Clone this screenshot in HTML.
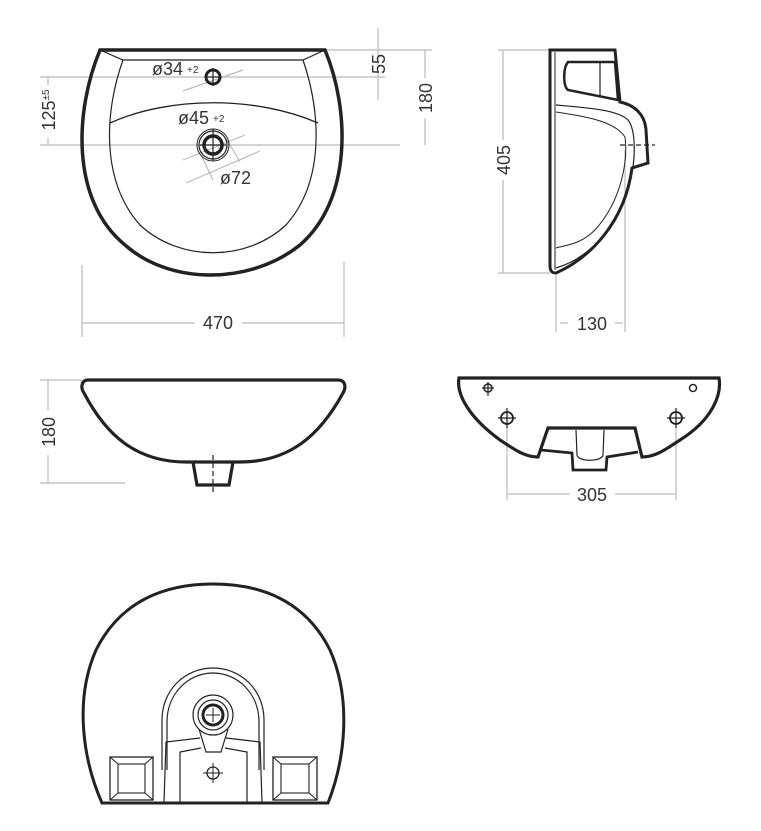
<!DOCTYPE html>
<html><head><meta charset="utf-8"><style>
html,body{margin:0;padding:0;background:#fff}
svg{display:block}
text{font-family:"Liberation Sans",sans-serif;fill:#333}
</style></head><body>
<svg width="761" height="831" viewBox="0 0 761 831" xmlns="http://www.w3.org/2000/svg">
<g fill="none" stroke="#bbb" stroke-width="1.2">
<line x1="40" y1="145" x2="400" y2="145"/>
<line x1="40" y1="77" x2="385" y2="77"/>
<line x1="325" y1="50" x2="432" y2="50"/>
<line x1="378" y1="28" x2="378" y2="100"/>
<line x1="425" y1="50" x2="425" y2="78"/><line x1="425" y1="118" x2="425" y2="145"/>
<line x1="48" y1="77" x2="48" y2="85"/><line x1="48" y1="138" x2="48" y2="145"/>
<line x1="82" y1="265" x2="82" y2="337"/><line x1="344" y1="262" x2="344" y2="337"/>
<line x1="82" y1="323" x2="195" y2="323"/><line x1="242" y1="323" x2="344" y2="323"/>
<line x1="183" y1="91" x2="243" y2="70"/>
<line x1="183" y1="160" x2="245" y2="135"/>
<line x1="186" y1="183" x2="260" y2="151"/>
<line x1="201" y1="155" x2="213" y2="180"/>
<line x1="227" y1="140" x2="240" y2="162"/>
<line x1="498" y1="50" x2="550" y2="50"/><line x1="498" y1="273" x2="550" y2="273"/>
<line x1="503" y1="50" x2="503" y2="140"/><line x1="503" y1="180" x2="503" y2="273"/>
<line x1="556" y1="275" x2="556" y2="332"/><line x1="625" y1="150" x2="625" y2="332"/>
<line x1="560" y1="323" x2="568" y2="323"/><line x1="615" y1="323" x2="623" y2="323"/>
<line x1="40" y1="380" x2="82" y2="380"/><line x1="40" y1="483" x2="125" y2="483"/>
<line x1="48" y1="380" x2="48" y2="410"/><line x1="48" y1="455" x2="48" y2="483"/>
<line x1="507" y1="410" x2="507" y2="500"/><line x1="676" y1="410" x2="676" y2="500"/>
<line x1="507" y1="494" x2="570" y2="494"/><line x1="615" y1="494" x2="676" y2="494"/>
</g>
<g fill="none" stroke="#222" stroke-width="1.2">
<line x1="213" y1="68" x2="213" y2="86"/><line x1="205" y1="77" x2="221" y2="77"/>
<line x1="213" y1="129" x2="213" y2="161"/><line x1="200" y1="145" x2="226" y2="145"/>
<line x1="213" y1="455" x2="213" y2="492" stroke-dasharray="5,3"/>
<line x1="620" y1="145" x2="655" y2="145" stroke-dasharray="5,3"/>
</g>
<g fill="none" stroke="#222">
<path d="M100,50 L325,50 C350,110 352,200 300,245 C250,285 170,285 125,245 C70,200 75,110 100,50 Z" stroke-width="3.5"/>
<path d="M100,50 L123,60 L303,60 L325,50" stroke-width="1.2"/>
<path d="M123,60 C105,110 100,180 140,225 C180,262 246,262 286,225 C326,180 320,110 303,60" stroke-width="1.2"/>
<path d="M110,123 C170,96 256,96 318,123" stroke-width="1.3"/>
<circle cx="213" cy="77" r="7" stroke-width="3"/>
<circle cx="213" cy="145" r="9" stroke-width="3.5"/>
<circle cx="213" cy="145" r="14" stroke-width="1.2"/>
<circle cx="213" cy="145" r="16" stroke-width="1"/>
</g>
<g fill="none" stroke="#222">
<path d="M550,50 L615,50 L620,102 C635,105 645,115 646,130 L648,163 L632,168 C625,222 590,258 556,273 C551,273 550,270 550,265 Z" stroke-width="3"/>
<path d="M568,62 L615,62 L618,100 L568,90 C563,86 563,68 568,62 Z" stroke-width="2.5"/>
<line x1="600" y1="62" x2="600" y2="96" stroke-width="1.2"/>
<path d="M556,105 C590,108 618,110 628,120 C636,130 636,160 630,180 C620,225 590,258 556,268" stroke-width="1.2"/>
<path d="M556,112 C590,117 615,122 625,137 C628,160 622,200 595,230 C580,245 565,245 556,248" stroke-width="1"/>
<line x1="555" y1="52" x2="555" y2="270" stroke-width="1"/>
</g>
<g fill="none" stroke="#222" stroke-width="3.2">
<path d="M88,380 L338,380 C346,380 346,388 343,393 C320,435 290,462 240,462 L186,462 C136,462 106,435 84,393 C80,387 82,380 88,380 Z"/>
<path d="M193,462 L197,485 L229,485 L233,462"/>
</g>
<g fill="none" stroke="#222">
<path d="M459,378 L719,378 C722,395 712,420 680,440 C665,450 655,457 642,457 L635,428 L548,428 L538,457 C525,457 515,450 500,440 C470,418 456,395 459,378 Z" stroke-width="3.2"/>
<path d="M541,450 L572,453 L573,470 L606,470 L607,457 L638,452" stroke-width="2.8"/>
<path d="M576,430 L577,455 C578,462 602,462 603,455 L604,430" stroke-width="1.2"/>
<circle cx="488" cy="388" r="4" stroke-width="1.5"/><line x1="488" y1="382" x2="488" y2="396" stroke-width="1.2"/><line x1="482" y1="388" x2="494" y2="388" stroke-width="1.2"/>
<circle cx="693" cy="388" r="3.5" stroke-width="1.5"/>
<circle cx="507" cy="418" r="6" stroke-width="1.8"/><line x1="507" y1="408" x2="507" y2="428" stroke-width="1.2"/><line x1="498" y1="418" x2="516" y2="418" stroke-width="1.2"/>
<circle cx="676" cy="418" r="6" stroke-width="1.8"/><line x1="676" y1="408" x2="676" y2="428" stroke-width="1.2"/><line x1="667" y1="418" x2="685" y2="418" stroke-width="1.2"/>
</g>
<g fill="none" stroke="#222">
<path d="M102,803 L328,803 C345,760 352,700 330,650 C305,600 260,584 213,584 C166,584 121,600 96,650 C74,700 83,760 102,803 Z" stroke-width="3"/>
<path d="M162,770 L162,720 C162,690 185,668 213,668 C241,668 264,690 264,720 L264,770" stroke-width="1.2"/>
<path d="M167,770 L167,722 C167,694 188,673 213,673 C238,673 259,694 259,722 L259,770" stroke-width="1.2"/>
<path d="M164,802 L166,742 L200,738 M226,738 L260,742 L262,802" stroke-width="1.2"/>
<path d="M180,802 L180,752 L201,748 M225,748 L247,752 L247,802" stroke-width="1.2"/>
<circle cx="213" cy="715" r="20" stroke-width="1.2"/>
<circle cx="213" cy="715" r="15" stroke-width="1.2"/>
<circle cx="213" cy="715" r="10" stroke-width="3"/>
<path d="M199,729 L206,752 L221,752 L228,729" stroke-width="1.2"/>
<line x1="213" y1="708" x2="213" y2="722"/><line x1="206" y1="715" x2="220" y2="715"/>
<circle cx="213" cy="773" r="6" stroke-width="1.3"/>
<line x1="213" y1="763" x2="213" y2="783"/><line x1="203" y1="773" x2="223" y2="773"/>
<rect x="110" y="757" width="43" height="43" stroke-width="1.3"/>
<rect x="118" y="764" width="27" height="29" stroke-width="1.1"/>
<path d="M110,757 L118,764 M153,757 L145,764 M110,800 L118,793 M153,800 L145,793" stroke-width="1"/>
<rect x="273" y="757" width="44" height="43" stroke-width="1.3"/>
<rect x="281" y="764" width="28" height="29" stroke-width="1.1"/>
<path d="M273,757 L281,764 M317,757 L309,764 M273,800 L281,793 M317,800 L309,793" stroke-width="1"/>
</g>
<text x="152" y="75" font-size="18">ø34</text><text x="187" y="73" font-size="10">+2</text>
<text x="178" y="124" font-size="18">ø45</text><text x="213" y="122" font-size="10">+2</text>
<text x="220" y="184" font-size="18">ø72</text>
<text x="218" y="329" font-size="18" text-anchor="middle">470</text>
<text x="592" y="330" font-size="18" text-anchor="middle">130</text>
<text x="592" y="501" font-size="18" text-anchor="middle">305</text>
<g font-size="18" text-anchor="middle">
<text transform="translate(55,110) rotate(-90)">125<tspan font-size="10" dy="-6">±5</tspan></text>
<text transform="translate(385,64) rotate(-90)">55</text>
<text transform="translate(432,98) rotate(-90)">180</text>
<text transform="translate(510,160) rotate(-90)">405</text>
<text transform="translate(55,432) rotate(-90)">180</text>
</g>
</svg>
</body></html>
